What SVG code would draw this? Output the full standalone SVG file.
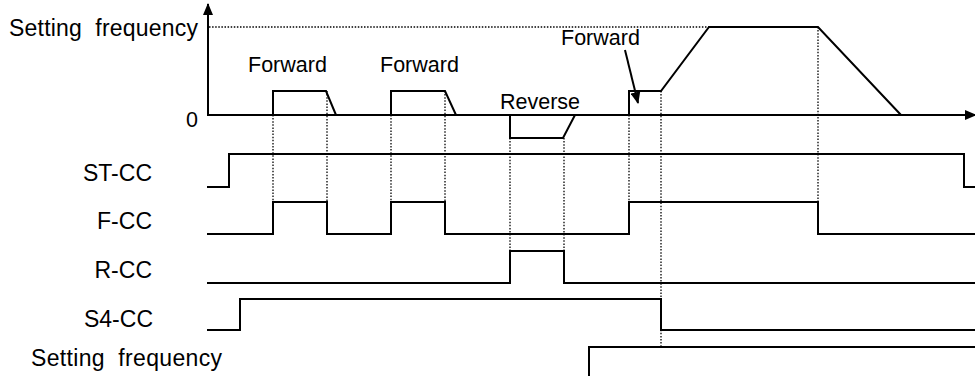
<svg xmlns="http://www.w3.org/2000/svg" width="975" height="376" viewBox="0 0 975 376">
<style>
.w{fill:none;stroke:#000;stroke-width:2;stroke-linejoin:miter}
.d{fill:none;stroke:#000;stroke-width:1.3;stroke-dasharray:1.5 1.6}
.ax{fill:none;stroke:#000;stroke-width:2}
text{font-family:"Liberation Sans",Arial,sans-serif;fill:#000}
.lb{font-size:23px}
.sm{font-size:21.5px}
</style>
<defs>
<marker id="ah" viewBox="0 0 12 10" refX="11" refY="5" markerWidth="12" markerHeight="10" markerUnits="userSpaceOnUse" orient="auto">
<path d="M0,0 L12,5 L0,10 Z" fill="#000"/>
</marker>
</defs>
<rect width="975" height="376" fill="#fff"/>
<g id="axes">
<path class="ax" d="M208,115 V4" marker-end="url(#ah)"/>
<path class="ax" d="M207,115 H976" marker-end="url(#ah)"/>
<text class="sm" x="186" y="127">0</text>
<text class="lb" x="9" y="36" textLength="189" lengthAdjust="spacing">Setting&#160;&#160;frequency</text>
</g>
<g id="guides">
<path class="d" d="M209,27 H709"/>
<path class="d" d="M273,115 V202 M327,91 V202 M391,115 V202 M445,91 V202 M510,138 V251 M564,138 V251 M629,115 V202 M661,91 V347 M818,27 V202"/>
</g>
<g id="frequency-output">
<path class="w" d="M273,115 V91 H326 L336,115"/>
<path class="w" d="M391,115 V91 H445 L456,115"/>
<path class="w" d="M510,115 V138 H563 L575,115"/>
<path class="w" d="M629,115 V91 H661 L709,27 H818 L901,115"/>
<text class="sm" x="248" y="72">Forward</text>
<text class="sm" x="380" y="72">Forward</text>
<text class="sm" x="500" y="109">Reverse</text>
<text class="sm" x="561" y="45">Forward</text>
<path class="ax" d="M625,50 L638,103" marker-end="url(#ah)"/>
</g>
<g id="st-cc">
<text class="lb" x="152" y="181" text-anchor="end">ST-CC</text>
<path class="w" d="M207,187 H229 V154 H964 V187 H975"/>
</g>
<g id="f-cc">
<text class="lb" x="152" y="229" text-anchor="end">F-CC</text>
<path class="w" d="M207,234 H273 V202 H327 V234 H391 V202 H445 V234 H629 V202 H818 V234 H975"/>
</g>
<g id="r-cc">
<text class="lb" x="152" y="278" text-anchor="end">R-CC</text>
<path class="w" d="M207,283 H510 V251 H564 V283 H975"/>
</g>
<g id="s4-cc">
<text class="lb" x="153" y="327" text-anchor="end">S4-CC</text>
<path class="w" d="M207,330 H240 V299 H661 V330 H975"/>
</g>
<g id="setting-frequency">
<text class="lb" x="31" y="366" textLength="191" lengthAdjust="spacing">Setting&#160;&#160;frequency</text>
<path class="w" d="M589,377 V347 H976"/>
</g>
</svg>
